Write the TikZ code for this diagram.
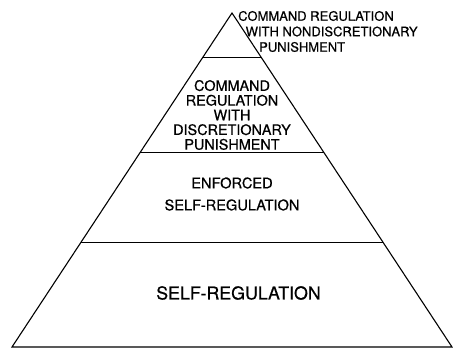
\documentclass[tikz,border=0pt]{standalone}
\usepackage{fontspec}
\setmainfont{TeX Gyre Heros}[FakeBold=0.6]
\usetikzlibrary{calc}
\tikzset{
  edge/.style={draw=black, line width=1.1pt, line join=miter},
  tier/.style={draw=black, line width=0.9pt},
  toplbl/.style={anchor=west, inner sep=0pt, font=\fontsize{13}{13}\selectfont},
  midlbl/.style={align=center, inner sep=0pt, font=\fontsize{14.4}{14.7}\selectfont},
  lowlbl/.style={align=center, inner sep=0pt, font=\fontsize{14.6}{22}\selectfont},
  baselbl/.style={inner sep=0pt, font=\fontsize{17.8}{20}\selectfont},
}
\begin{document}
\begin{tikzpicture}[x=1pt, y=-1pt]
\useasboundingbox (0,0) rectangle (453,348);
\coordinate (apex) at (232,13);
\coordinate (bl) at (12,347);
\coordinate (br) at (452,347);
% tiers
\foreach \t/\n in {0.1317/a, 0.4162/b, 0.6856/c}
{\coordinate (l\n) at ($(apex)!\t!(bl)$);
 \coordinate (r\n) at ($(apex)!\t!(br)$);
 \draw[tier] (l\n) -- (r\n);}
\draw[edge] (bl) -- (apex) -- (br) -- cycle;
% labels
\node[toplbl] (top1) at (238,16) {COMMAND REGULATION};
\node[toplbl] (top2) at (245.5,31.5) {WITH NONDISCRETIONARY};
\node[toplbl] (top3) at (259,47) {PUNISHMENT};
\node[midlbl] (cmd) at (232,115) {COMMAND\\REGULATION\\WITH\\DISCRETIONARY\\PUNISHMENT};
\node[lowlbl] (enf) at (232,194) {ENFORCED\\SELF-REGULATION};
\node[baselbl] (self) at (238.5,293) {SELF-REGULATION};
\end{tikzpicture}
\end{document}
